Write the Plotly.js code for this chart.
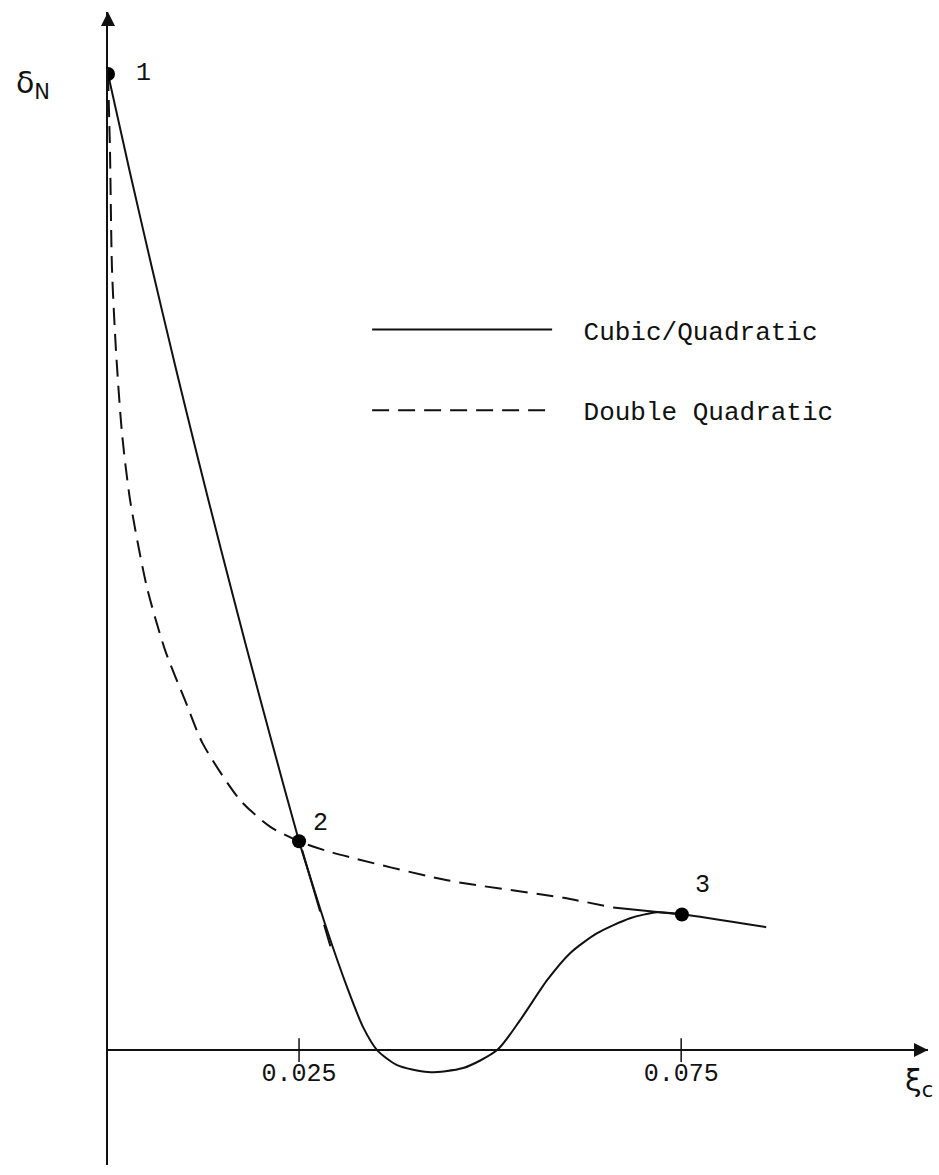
<!DOCTYPE html>
<html><head><meta charset="utf-8">
<script src="https://cdn.plot.ly/plotly-3.0.1.min.js"></script>
<style>html,body{margin:0;padding:0;background:#fff}</style>
</head><body>
<div id="chart" style="width:939px;height:1175px"></div>
<script>
// Cubic/Quadratic (solid) curve
const cubicX = [0, 0.00283, 0.00575, 0.00876, 0.01174, 0.01482, 0.01805, 0.02138, 0.0250, 0.02618, 0.02866, 0.03128, 0.03338, 0.03521, 0.03783, 0.04188, 0.04647, 0.05092, 0.05393, 0.05746, 0.06047, 0.06401, 0.06832, 0.07186, 0.07513, 0.08613];
const cubicY = [1.0, 0.9007, 0.8014, 0.7022, 0.6070, 0.5118, 0.4145, 0.3173, 0.2139, 0.184, 0.123, 0.0645, 0.0235, 0, -0.0154, -0.0225, -0.0184, 0, 0.0307, 0.0716, 0.0993, 0.1198, 0.1351, 0.1412, 0.1392, 0.1259];
// Double Quadratic (dashed) curve
const dqX = [0, 0.00026, 0.00052, 0.00105, 0.00183, 0.0029, 0.0051, 0.0075, 0.0101, 0.0124, 0.0173, 0.0212, 0.0250, 0.0291, 0.0444, 0.0596, 0.0661];
const dqY = [1.0, 0.921, 0.801, 0.716, 0.632, 0.563, 0.474, 0.409, 0.358, 0.314, 0.256, 0.229, 0.2139, 0.203, 0.174, 0.156, 0.146];
// solid end of the double quadratic, running into point 3
const dqTailX = [0.0661, 0.0751];
const dqTailY = [0.146, 0.139];
// short dashed extension below point 2
const dqExtX = [0.0254, 0.0291];
const dqExtY = [0.205, 0.1064];
// numbered points
const pointX = [0, 0.025, 0.0751];
const pointY = [1.0, 0.2139, 0.139];
const pointLabels = ['1', '2', '3'];
// x-axis ticks
const xTickVals = [0.025, 0.075];
const xTickText = ['0.025', '0.075'];

const MONO = 'Liberation Mono, Courier New, monospace';
const INK = '#111';
const xMax = 0.1073, yMin = -0.1177, yMax = 1.0635;
const GAP = '<span style="font-size:22px">\u00a0\u00a0</span>';

const traces = [
  {x: cubicX, y: cubicY, mode: 'lines', name: GAP + 'Cubic/Quadratic', legendgroup: 'a',
   line: {color: INK, width: 2, shape: 'spline', smoothing: 0.7}},
  {x: dqX, y: dqY, mode: 'lines', name: GAP + 'Double Quadratic', legendgroup: 'b',
   line: {color: INK, width: 2, dash: '17px,9px', shape: 'spline', smoothing: 0.7}},
  {x: dqTailX, y: dqTailY, mode: 'lines', showlegend: false, line: {color: INK, width: 2}},
  {x: dqExtX, y: dqExtY, mode: 'lines', showlegend: false, line: {color: INK, width: 2, dash: '64px,14px,32px'}},
  {x: pointX, y: pointY, mode: 'markers', showlegend: false, marker: {size: 14, color: '#000'}},
  {x: xTickVals, y: xTickVals.map(() => 0), mode: 'markers', showlegend: false, hoverinfo: 'skip',
   marker: {symbol: 'line-ns', size: 17, color: INK, line: {width: 1.5, color: INK}}},
  // axis arrowheads
  {x: [0, xMax], y: [yMax, 0], mode: 'markers', showlegend: false, hoverinfo: 'skip', cliponaxis: false,
   marker: {symbol: ['arrow-up', 'arrow-right'], size: 14, color: INK, line: {width: 0}}}
];

const labelShift = [[35, 0], [21, 18], [21, 29]];
const annotations = pointLabels.map((t, i) => ({
  x: pointX[i], y: pointY[i], xref: 'x', yref: 'y', text: t, showarrow: false,
  xshift: labelShift[i][0], yshift: labelShift[i][1], font: {family: MONO, size: 25, color: INK}
}));
annotations.push(
  {x: -0.115, y: 0.956, xref: 'paper', yref: 'paper', text: 'δ<sub>N</sub>', showarrow: false,
   font: {family: 'DejaVu Sans', size: 30, color: INK}},
  {x: 1.008, y: 0.053, xref: 'paper', yref: 'paper', text: 'ξ<sub>c</sub>', showarrow: false,
   font: {family: 'DejaVu Sans', size: 30, color: INK}}
);

const layout = {
  width: 939, height: 1175,
  margin: {l: 108, r: 11, t: 12, b: 10},
  paper_bgcolor: '#fff', plot_bgcolor: '#fff',
  showlegend: true,
  xaxis: {range: [0, xMax], showgrid: false, zeroline: false, showline: true, linecolor: INK, linewidth: 2,
          anchor: 'free', position: 0.0997, tickvals: xTickVals, ticktext: xTickText, ticks: '',
          ticklabelstandoff: 0, tickfont: {family: MONO, size: 25, color: INK}},
  yaxis: {range: [yMin, yMax], showgrid: false, zeroline: false, showline: true, linecolor: INK, linewidth: 2,
          showticklabels: false, ticks: ''},
  legend: {x: 0.316, y: 0.745, xanchor: 'left', yanchor: 'top', bgcolor: 'rgba(0,0,0,0)',
           font: {family: MONO, size: 26, color: INK}, itemwidth: 180, tracegroupgap: 44},
  annotations: annotations
};

Plotly.newPlot('chart', traces, layout, {displayModeBar: false, staticPlot: true});
</script>
</body></html>
